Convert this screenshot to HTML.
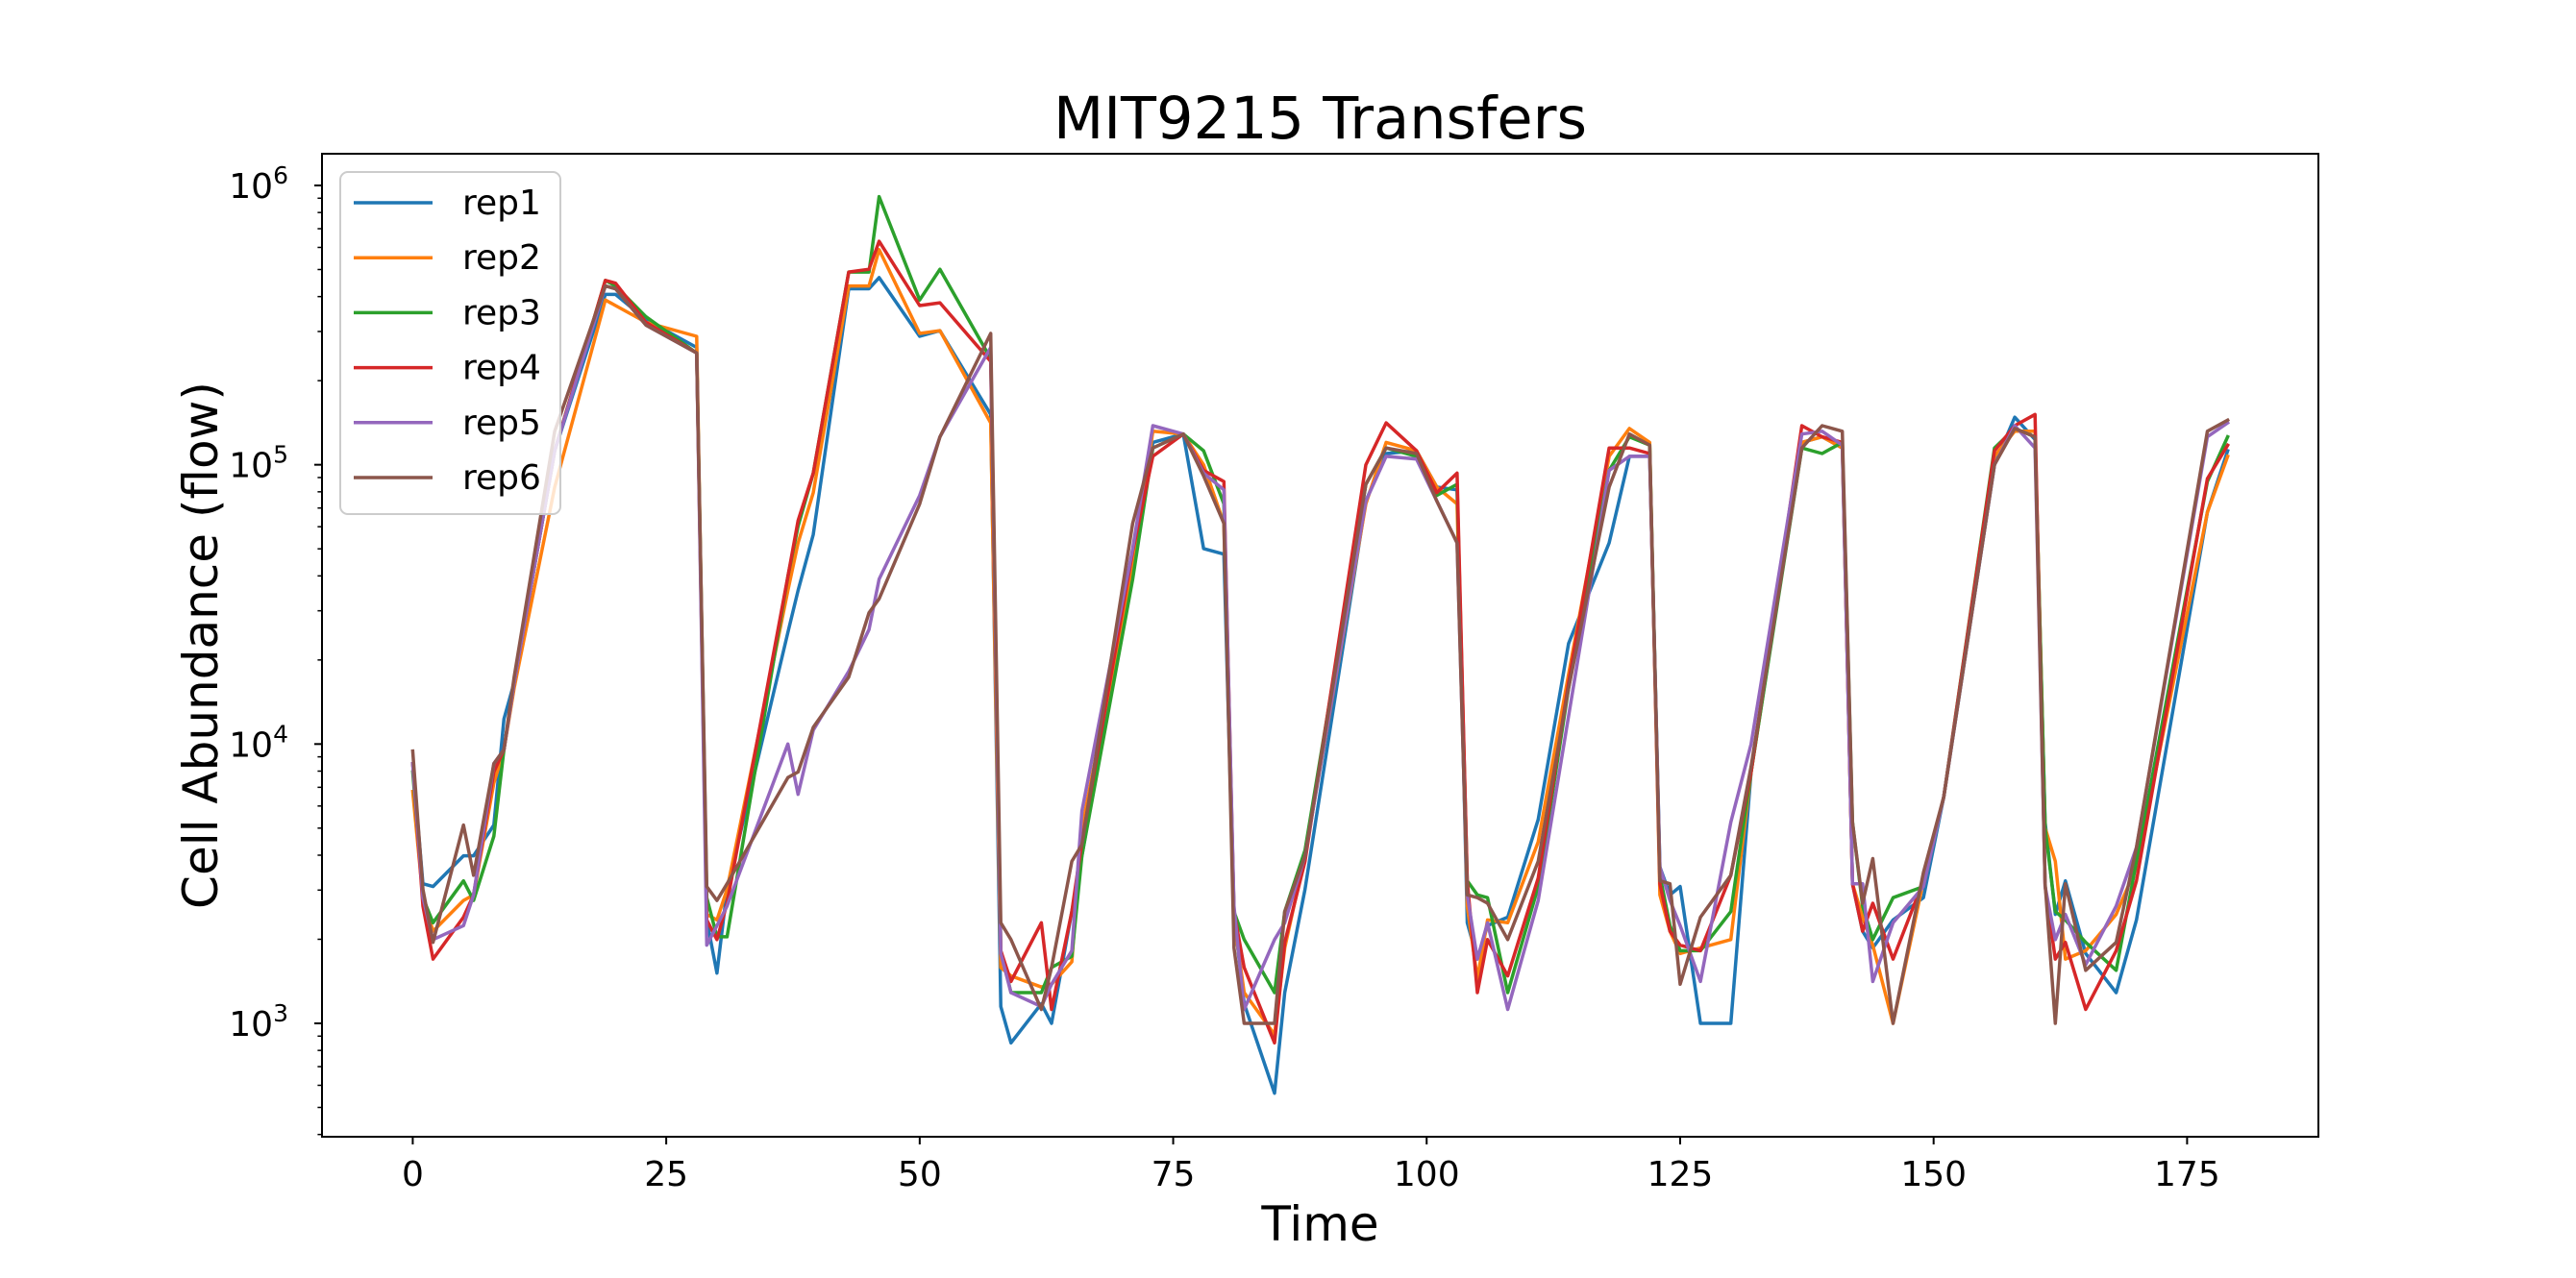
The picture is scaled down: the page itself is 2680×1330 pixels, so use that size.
<!DOCTYPE html>
<html><head><meta charset="utf-8"><title>MIT9215 Transfers</title>
<style>
html,body{margin:0;padding:0;background:#fff;}
svg{display:block;font-family:"DejaVu Sans","Liberation Sans",sans-serif;}
</style></head>
<body>
<svg id="chart" width="2680" height="1330" viewBox="0 0 2680 1330" xmlns="http://www.w3.org/2000/svg">
<rect x="0" y="0" width="2680" height="1330" fill="#fff"/>
<text x="1373.5" y="144" font-size="60.5" text-anchor="middle" fill="#000">MIT9215 Transfers</text>
<g id="plot"></g>
<text x="1373.5" y="1291" font-size="50" text-anchor="middle" fill="#000">Time</text>
<text transform="translate(226,671.5) rotate(-90)" font-size="50" text-anchor="middle" fill="#000">Cell Abundance (flow)</text>
</svg>
<script>
const times = [0,1,2,5,6,8,9,10,14,19,20,23,28,29,30,31,37,38,39.5,43,45,46,50,52,57,58,59,62,63,65,66,71,73,76,78,80,81,82,85,86,88,94,96,99,101,103,104,105,106,108,111,114,118,120,122,123,124,125,127,130,132,137,139,141,142,143,144,146,149,151,156,158,160,161,162,163,165,168,170,177,179];
const seriesNames = ["rep1","rep2","rep3","rep4","rep5","rep6"];
const rep1Log10 = [3.93,3.50,3.49,3.60,3.60,3.71,4.09,4.22,5.05,5.61,5.61,5.52,5.42,3.37,3.18,3.48,4.40,4.55,4.75,5.63,5.63,5.67,5.46,5.48,5.18,3.06,2.93,3.07,3.00,3.40,3.60,4.65,5.08,5.11,4.70,4.68,3.39,3.07,2.75,3.11,3.48,4.87,5.04,5.05,4.92,4.91,3.36,3.23,3.35,3.38,3.73,4.36,4.72,5.03,5.03,3.56,3.46,3.49,3.00,3.00,3.90,5.08,5.10,5.06,3.50,3.33,3.27,3.37,3.45,3.81,5.00,5.17,5.09,3.72,3.39,3.51,3.25,3.11,3.37,4.83,5.05];
const rep2Log10 = [3.83,3.45,3.33,3.44,3.46,3.86,3.98,4.20,4.92,5.59,5.57,5.51,5.46,3.39,3.37,3.48,4.55,4.72,4.90,5.64,5.64,5.77,5.47,5.48,5.15,3.20,3.17,3.13,3.14,3.22,3.70,4.62,5.12,5.11,5.00,4.79,3.37,3.11,2.96,3.27,3.60,4.86,5.08,5.05,4.92,4.86,3.42,3.16,3.37,3.36,3.65,4.25,5.03,5.13,5.08,3.46,3.33,3.25,3.27,3.30,3.90,5.08,5.10,5.06,3.50,3.38,3.28,3.00,3.51,3.81,5.03,5.12,5.12,3.70,3.58,3.23,3.26,3.39,3.56,4.83,5.03];
const rep3Log10 = [3.90,3.45,3.36,3.51,3.44,3.67,3.98,4.22,5.05,5.66,5.64,5.53,5.40,3.45,3.31,3.31,4.60,4.78,4.97,5.69,5.69,5.96,5.59,5.70,5.38,3.26,3.11,3.11,3.20,3.24,3.60,4.59,5.06,5.11,5.05,4.86,3.40,3.30,3.11,3.40,3.62,4.93,5.06,5.03,4.89,4.93,3.51,3.46,3.45,3.11,3.49,4.20,4.98,5.10,5.07,3.53,3.35,3.26,3.26,3.40,3.90,5.06,5.04,5.08,3.72,3.42,3.30,3.45,3.49,3.81,5.06,5.13,5.10,3.70,3.40,3.37,3.29,3.19,3.58,4.94,5.10];
const rep4Log10 = [3.93,3.42,3.23,3.38,3.46,3.90,3.98,4.22,5.05,5.66,5.65,5.51,5.40,3.37,3.30,3.43,4.60,4.80,4.97,5.69,5.70,5.80,5.57,5.58,5.37,3.26,3.15,3.36,3.05,3.40,3.65,4.69,5.03,5.11,4.98,4.94,3.40,3.20,2.93,3.29,3.58,5.00,5.15,5.05,4.90,4.97,3.51,3.11,3.30,3.17,3.52,4.22,5.06,5.06,5.04,3.50,3.33,3.28,3.26,3.53,3.90,5.14,5.10,5.08,3.50,3.33,3.43,3.23,3.51,3.81,5.05,5.14,5.18,3.49,3.23,3.29,3.05,3.26,3.51,4.95,5.07];
const rep5Log10 = [3.93,3.45,3.30,3.35,3.46,3.93,3.98,4.22,5.05,5.64,5.63,5.50,5.40,3.28,3.35,3.42,4.00,3.82,4.05,4.26,4.41,4.59,4.89,5.10,5.42,3.25,3.11,3.06,3.14,3.26,3.76,4.70,5.14,5.11,4.97,4.91,3.42,3.05,3.30,3.36,3.60,4.87,5.03,5.02,4.87,4.72,3.46,3.23,3.36,3.05,3.44,4.10,4.98,5.03,5.03,3.56,3.44,3.35,3.15,3.72,4.00,5.11,5.12,5.07,3.50,3.50,3.15,3.36,3.49,3.81,5.00,5.14,5.06,3.49,3.30,3.39,3.21,3.42,3.63,5.10,5.15];
const rep6Log10 = [3.975,3.48,3.29,3.71,3.53,3.93,3.98,4.24,5.12,5.64,5.63,5.50,5.40,3.49,3.44,3.50,3.88,3.90,4.06,4.24,4.47,4.52,4.86,5.10,5.47,3.36,3.30,3.05,3.20,3.58,3.64,4.79,5.06,5.11,4.96,4.79,3.27,3.00,3.00,3.40,3.60,4.93,5.06,5.04,4.87,4.72,3.46,3.45,3.43,3.30,3.58,4.20,4.92,5.11,5.07,3.51,3.50,3.14,3.38,3.53,3.92,5.06,5.14,5.12,3.72,3.43,3.59,3.00,3.54,3.81,5.00,5.13,5.10,3.50,3.00,3.50,3.19,3.29,3.63,5.12,5.16];
const xTickValues = [0,25,50,75,100,125,150,175];
const yTickExponents = [3,4,5,6];

const seriesData = [rep1Log10,rep2Log10,rep3Log10,rep4Log10,rep5Log10,rep6Log10];
const colors = ["#1f77b4","#ff7f0e","#2ca02c","#d62728","#9467bd","#8c564b"];
const AX = {left:335, right:2412, top:160, bottom:1183};
const X_MIN = -8.95, X_MAX = 187.95;
const L_MIN = 2.594, L_MAX = 6.1135;
function xScale(t){ return AX.left + (t - X_MIN)/(X_MAX - X_MIN)*(AX.right-AX.left); }
function yScaleLog(l){ return AX.bottom - (l - L_MIN)/(L_MAX - L_MIN)*(AX.bottom-AX.top); }
const NS = "http://www.w3.org/2000/svg";
const plot = document.getElementById("plot");
function mk(tag, attrs, parent){ const e=document.createElementNS(NS,tag); for(const k in attrs) e.setAttribute(k,attrs[k]); (parent||plot).appendChild(e); return e; }

const bg = mk("rect",{x:AX.left,y:AX.top,width:AX.right-AX.left,height:AX.bottom-AX.top,fill:"#fff"});



const seriesGroup = mk("g",{});


seriesData.forEach((arr, i) => {
  const pts = times.map((t, j) => xScale(t).toFixed(1) + "," + yScaleLog(arr[j]).toFixed(1)).join(" ");
  const pl = mk("polyline",{points:pts,fill:"none",stroke:colors[i],"stroke-width":3.5,"stroke-linejoin":"round","stroke-linecap":"square"},seriesGroup);
  
  
});

const frame = mk("rect",{x:AX.left,y:AX.top,width:AX.right-AX.left,height:AX.bottom-AX.top,fill:"none",stroke:"#000","stroke-width":2});



xTickValues.forEach(v => {
  const x = xScale(v);
  const tk = mk("line",{x1:x,x2:x,y1:AX.bottom,y2:AX.bottom+8,stroke:"#000","stroke-width":2});
  
  
  const tx = mk("text",{x:x,y:1234,"font-size":36,"text-anchor":"middle",fill:"#000"});
  tx.textContent = String(v);
  
  
});

for (let e = 2; e <= 6; e++) {
  for (let m = 1; m <= 9; m++) {
    const l = e + Math.log10(m);
    if (l < L_MIN || l > L_MAX) continue;
    const y = yScaleLog(l);
    const major = (m === 1);
    const tk = mk("line",{x1:AX.left-(major?8:4.6),x2:AX.left,y1:y,y2:y,stroke:"#000","stroke-width":major?2:1.5});
    
    
  }
}
yTickExponents.forEach(e => {
  const y = yScaleLog(e);
  const tx = mk("text",{x:300,y:y+13,"font-size":36,"text-anchor":"end",fill:"#000"});
  const base = document.createElementNS(NS,"tspan"); base.textContent = "10"; tx.appendChild(base);
  const sup = document.createElementNS(NS,"tspan"); sup.setAttribute("dy","-15"); sup.setAttribute("font-size","25"); sup.textContent = String(e); tx.appendChild(sup);
  
  
});

const lg = mk("g",{});


const lbox = mk("rect",{x:354,y:179,width:229,height:356,rx:8,fill:"#fff","fill-opacity":0.8,stroke:"#ccc","stroke-width":2},lg);


seriesNames.forEach((n, i) => {
  const y = 211 + i*57.2;
  const entry = mk("g",{},lg);
  
  
  mk("line",{x1:368,x2:450,y1:y,y2:y,stroke:colors[i],"stroke-width":3.5},entry);
  const t = mk("text",{x:481,y:y+12,"font-size":36,fill:"#000"},entry);
  t.textContent = n;
});
</script>
</body></html>
